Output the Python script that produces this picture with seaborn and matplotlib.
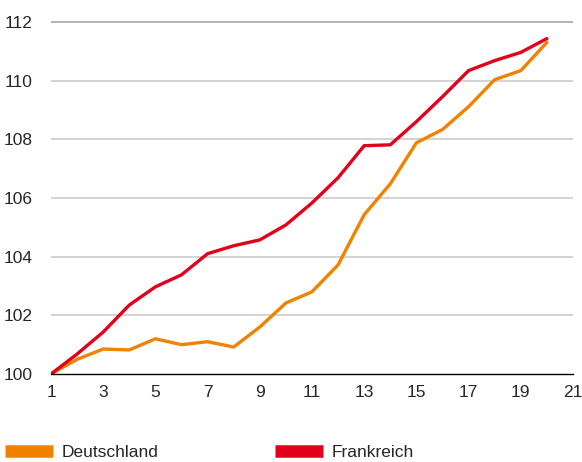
import numpy as np
import pandas as pd
import matplotlib.pyplot as plt
import seaborn as sns
from matplotlib.lines import Line2D

# Data
PERIODS = list(range(1, 21))
DEUTSCHLAND = [100.0, 100.5, 100.85, 100.82, 101.2, 101.0, 101.1, 100.92, 101.6, 102.42,
               102.8, 103.72, 105.43, 106.48, 107.88, 108.33, 109.11, 110.03, 110.34, 111.3]
FRANKREICH = [100.0, 100.68, 101.43, 102.35, 102.97, 103.38, 104.1, 104.37, 104.57, 105.08,
              105.83, 106.69, 107.78, 107.81, 108.6, 109.45, 110.34, 110.68, 110.96, 111.43]
SERIES = ["Deutschland", "Frankreich"]
COLORS = {"Deutschland": "#F08200", "Frankreich": "#E2001A"}
X_TICKS = list(range(1, 22, 2))
Y_TICKS = list(range(100, 113, 2))

df = pd.DataFrame({
    "t": PERIODS * 2,
    "wert": DEUTSCHLAND + FRANKREICH,
    "land": ["Deutschland"] * len(PERIODS) + ["Frankreich"] * len(PERIODS),
})

sns.set_style("white")
plt.rcParams['font.family'] = ['Liberation Sans', 'DejaVu Sans']

fig = plt.figure(figsize=(5.82, 4.62), dpi=100)
ax = fig.add_axes([51 / 582, 1 - 374 / 462, (573 - 51) / 582, (374 - 16) / 462])

sns.lineplot(data=df, x="t", y="wert", hue="land", palette=COLORS,
             linewidth=2.4, legend=False, ax=ax, zorder=3)

ax.set_xlim(1, 21)
ax.set_ylim(100, 112.2)
ax.set_xticks(X_TICKS)
ax.set_yticks(Y_TICKS)
ax.set_xlabel("")
ax.set_ylabel("")

for y in Y_TICKS[1:]:
    ax.axhline(y, color="#a6a6a6" if y == 112 else "#cccccc", lw=1.2, zorder=1)

for s in ["top", "right", "left"]:
    ax.spines[s].set_visible(False)
ax.spines["bottom"].set_color("black")
ax.spines["bottom"].set_linewidth(1.0)
ax.spines["bottom"].set_zorder(4)

ax.tick_params(axis="x", direction="out", length=5, width=1, color="black",
               labelsize=12.5, pad=3)
ax.tick_params(axis="y", length=0, labelsize=12.5, pad=13)

handles = [Line2D([0], [0], color=COLORS[s], lw=9, solid_capstyle="butt") for s in SERIES]
fig.legend(handles, SERIES, loc="lower left", bbox_to_anchor=(-0.012, -0.022),
           ncol=2, frameon=False, fontsize=12.5, handlelength=2.75,
           handletextpad=0.5, columnspacing=6.7, borderpad=0.2)

fig.savefig("out.png", dpi=100)
